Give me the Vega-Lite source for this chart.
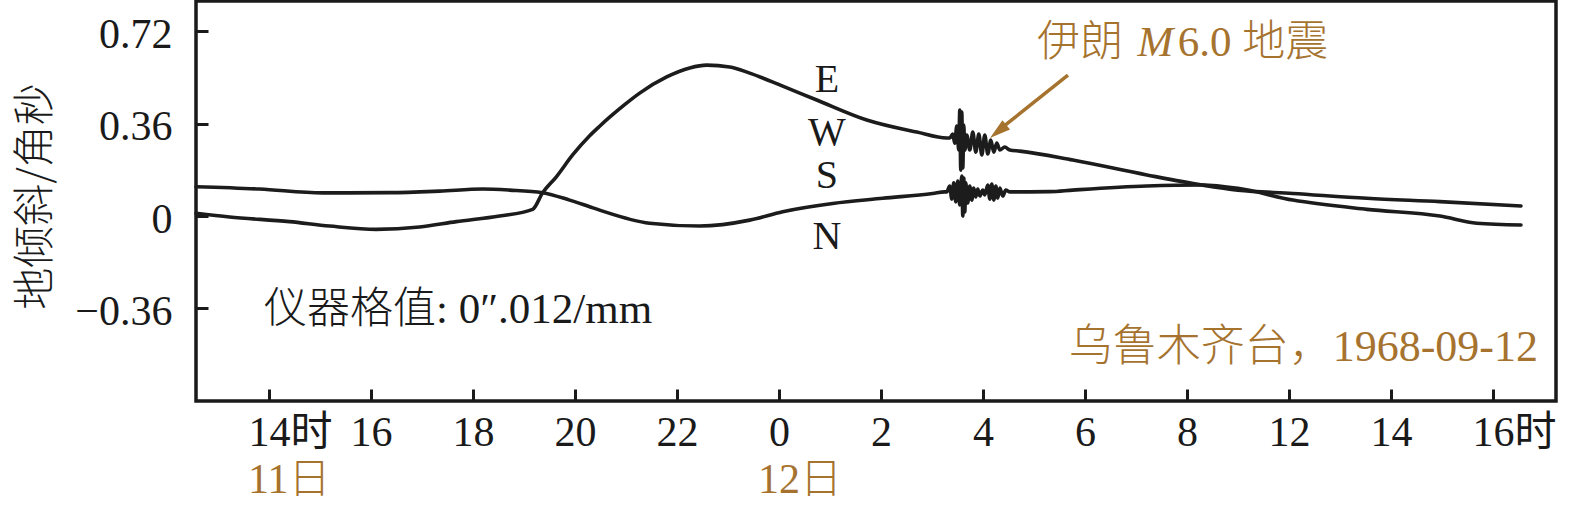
{
  "$schema": "https://vega.github.io/schema/vega-lite/v6.json",
  "width": 1360,
  "height": 400,
  "autosize": "none",
  "padding": {"left": 196, "top": 1, "right": 19, "bottom": 111},
  "background": "white",
  "config": {
    "font": "Liberation Serif, Noto Sans CJK SC",
    "view": {"stroke": "#1a1a1a", "strokeWidth": 3.5},
    "axis": {
      "grid": false,
      "domain": false,
      "ticks": true,
      "tickColor": "#1a1a1a",
      "tickWidth": 3,
      "tickSize": -12,
      "labelFont": "Liberation Serif, Noto Sans CJK SC",
      "labelFontSize": 42,
      "labelColor": "#1a1a1a",
      "labelOverlap": false,
      "labelFlush": false,
      "labelBound": false
    }
  },
  "datasets": {
    "curves": [
      {"component": "EW", "hour": 12.568, "tilt": 0.0105},
      {"component": "EW", "hour": 13.225, "tilt": -0.004},
      {"component": "EW", "hour": 14.402, "tilt": -0.022},
      {"component": "EW", "hour": 15.187, "tilt": -0.039},
      {"component": "EW", "hour": 16.103, "tilt": -0.052},
      {"component": "EW", "hour": 16.952, "tilt": -0.043},
      {"component": "EW", "hour": 17.672, "tilt": -0.022},
      {"component": "EW", "hour": 18.521, "tilt": 0.0},
      {"component": "EW", "hour": 19.169, "tilt": 0.026},
      {"component": "EW", "hour": 19.365, "tilt": 0.091},
      {"component": "EW", "hour": 19.634, "tilt": 0.153},
      {"component": "EW", "hour": 19.953, "tilt": 0.238},
      {"component": "EW", "hour": 20.287, "tilt": 0.313},
      {"component": "EW", "hour": 20.483, "tilt": 0.35},
      {"component": "EW", "hour": 20.679, "tilt": 0.385},
      {"component": "EW", "hour": 20.973, "tilt": 0.434},
      {"component": "EW", "hour": 21.268, "tilt": 0.479},
      {"component": "EW", "hour": 21.797, "tilt": 0.542},
      {"component": "EW", "hour": 22.249, "tilt": 0.577},
      {"component": "EW", "hour": 22.582, "tilt": 0.588},
      {"component": "EW", "hour": 23.033, "tilt": 0.581},
      {"component": "EW", "hour": 23.425, "tilt": 0.557},
      {"component": "EW", "hour": 24.073, "tilt": 0.506},
      {"component": "EW", "hour": 24.74, "tilt": 0.452},
      {"component": "EW", "hour": 25.721, "tilt": 0.374},
      {"component": "EW", "hour": 26.701, "tilt": 0.327},
      {"component": "EW", "hour": 27.29, "tilt": 0.304},
      {"component": "EW", "hour": 27.348, "tilt": 0.304},
      {"component": "EW", "hour": 27.407, "tilt": 0.319},
      {"component": "EW", "hour": 27.447, "tilt": 0.284},
      {"component": "EW", "hour": 27.486, "tilt": 0.351},
      {"component": "EW", "hour": 27.525, "tilt": 0.257},
      {"component": "EW", "hour": 27.545, "tilt": 0.413},
      {"component": "EW", "hour": 27.564, "tilt": 0.179},
      {"component": "EW", "hour": 27.584, "tilt": 0.405},
      {"component": "EW", "hour": 27.604, "tilt": 0.187},
      {"component": "EW", "hour": 27.623, "tilt": 0.355},
      {"component": "EW", "hour": 27.643, "tilt": 0.257},
      {"component": "EW", "hour": 27.682, "tilt": 0.316},
      {"component": "EW", "hour": 27.741, "tilt": 0.257},
      {"component": "EW", "hour": 27.8, "tilt": 0.327},
      {"component": "EW", "hour": 27.859, "tilt": 0.249},
      {"component": "EW", "hour": 27.918, "tilt": 0.319},
      {"component": "EW", "hour": 27.977, "tilt": 0.238},
      {"component": "EW", "hour": 28.035, "tilt": 0.316},
      {"component": "EW", "hour": 28.094, "tilt": 0.242},
      {"component": "EW", "hour": 28.153, "tilt": 0.296},
      {"component": "EW", "hour": 28.212, "tilt": 0.249},
      {"component": "EW", "hour": 28.271, "tilt": 0.284},
      {"component": "EW", "hour": 28.33, "tilt": 0.257},
      {"component": "EW", "hour": 28.428, "tilt": 0.269},
      {"component": "EW", "hour": 28.526, "tilt": 0.257},
      {"component": "EW", "hour": 28.722, "tilt": 0.253},
      {"component": "EW", "hour": 29.761, "tilt": 0.218},
      {"component": "EW", "hour": 31.213, "tilt": 0.16},
      {"component": "EW", "hour": 32.292, "tilt": 0.121},
      {"component": "EW", "hour": 32.998, "tilt": 0.101},
      {"component": "EW", "hour": 34.077, "tilt": 0.088},
      {"component": "EW", "hour": 35.528, "tilt": 0.069},
      {"component": "EW", "hour": 36.96, "tilt": 0.056},
      {"component": "EW", "hour": 38.549, "tilt": 0.039},
      {"component": "NS", "hour": 12.568, "tilt": 0.114},
      {"component": "NS", "hour": 13.814, "tilt": 0.105},
      {"component": "NS", "hour": 15.049, "tilt": 0.09},
      {"component": "NS", "hour": 16.364, "tilt": 0.091},
      {"component": "NS", "hour": 17.344, "tilt": 0.097},
      {"component": "NS", "hour": 18.188, "tilt": 0.105},
      {"component": "NS", "hour": 18.718, "tilt": 0.101},
      {"component": "NS", "hour": 19.365, "tilt": 0.091},
      {"component": "NS", "hour": 19.894, "tilt": 0.062},
      {"component": "NS", "hour": 20.287, "tilt": 0.036},
      {"component": "NS", "hour": 20.483, "tilt": 0.023},
      {"component": "NS", "hour": 21.464, "tilt": -0.028},
      {"component": "NS", "hour": 22.445, "tilt": -0.039},
      {"component": "NS", "hour": 23.425, "tilt": -0.016},
      {"component": "NS", "hour": 24.073, "tilt": 0.017},
      {"component": "NS", "hour": 25.054, "tilt": 0.049},
      {"component": "NS", "hour": 26.035, "tilt": 0.069},
      {"component": "NS", "hour": 27.015, "tilt": 0.088},
      {"component": "NS", "hour": 27.251, "tilt": 0.094},
      {"component": "NS", "hour": 27.29, "tilt": 0.094},
      {"component": "NS", "hour": 27.348, "tilt": 0.117},
      {"component": "NS", "hour": 27.388, "tilt": 0.066},
      {"component": "NS", "hour": 27.427, "tilt": 0.129},
      {"component": "NS", "hour": 27.466, "tilt": 0.055},
      {"component": "NS", "hour": 27.505, "tilt": 0.136},
      {"component": "NS", "hour": 27.545, "tilt": 0.043},
      {"component": "NS", "hour": 27.584, "tilt": 0.156},
      {"component": "NS", "hour": 27.604, "tilt": 0.0},
      {"component": "NS", "hour": 27.623, "tilt": 0.148},
      {"component": "NS", "hour": 27.643, "tilt": 0.016},
      {"component": "NS", "hour": 27.662, "tilt": 0.129},
      {"component": "NS", "hour": 27.701, "tilt": 0.051},
      {"component": "NS", "hour": 27.741, "tilt": 0.117},
      {"component": "NS", "hour": 27.78, "tilt": 0.062},
      {"component": "NS", "hour": 27.819, "tilt": 0.109},
      {"component": "NS", "hour": 27.859, "tilt": 0.074},
      {"component": "NS", "hour": 27.898, "tilt": 0.105},
      {"component": "NS", "hour": 27.937, "tilt": 0.078},
      {"component": "NS", "hour": 27.996, "tilt": 0.101},
      {"component": "NS", "hour": 28.035, "tilt": 0.082},
      {"component": "NS", "hour": 28.094, "tilt": 0.121},
      {"component": "NS", "hour": 28.133, "tilt": 0.066},
      {"component": "NS", "hour": 28.172, "tilt": 0.125},
      {"component": "NS", "hour": 28.212, "tilt": 0.062},
      {"component": "NS", "hour": 28.251, "tilt": 0.117},
      {"component": "NS", "hour": 28.29, "tilt": 0.07},
      {"component": "NS", "hour": 28.33, "tilt": 0.109},
      {"component": "NS", "hour": 28.388, "tilt": 0.078},
      {"component": "NS", "hour": 28.447, "tilt": 0.101},
      {"component": "NS", "hour": 28.526, "tilt": 0.094},
      {"component": "NS", "hour": 29.31, "tilt": 0.095},
      {"component": "NS", "hour": 29.761, "tilt": 0.101},
      {"component": "NS", "hour": 31.213, "tilt": 0.117},
      {"component": "NS", "hour": 32.292, "tilt": 0.121},
      {"component": "NS", "hour": 32.998, "tilt": 0.108},
      {"component": "NS", "hour": 34.077, "tilt": 0.062},
      {"component": "NS", "hour": 35.528, "tilt": 0.026},
      {"component": "NS", "hour": 36.96, "tilt": 0.0},
      {"component": "NS", "hour": 37.685, "tilt": -0.028},
      {"component": "NS", "hour": 38.549, "tilt": -0.035}
    ],
    "letters": [
      {"label": "E", "hour": 24.941, "tilt": 0.53},
      {"label": "W", "hour": 24.941, "tilt": 0.325},
      {"label": "S", "hour": 24.941, "tilt": 0.154},
      {"label": "N", "hour": 24.941, "tilt": -0.082}
    ],
    "note": [
      {"label": "仪器格值: 0″.012/mm", "hour": 13.901, "tilt": -0.366}
    ],
    "station": [
      {"label": "乌鲁木齐台，1968-09-12", "hour": 38.882, "tilt": -0.514}
    ],
    "quake1": [{"label": "伊朗", "hour": 29.058, "tilt": 0.674}],
    "quake2": [{"label": "M", "hour": 31.03, "tilt": 0.674}],
    "quake3": [{"label": "6.0 地震", "hour": 31.82, "tilt": 0.674}],
    "arrow": [{"hour": 29.666, "tilt": 0.549, "hour2": 28.392, "tilt2": 0.347}],
    "arrowhead": [{"hour": 28.137, "tilt": 0.304}],
    "days": [
      {"label": "11日", "hour": 14, "tilt": -1.0285},
      {"label": "12日", "hour": 24, "tilt": -1.0285}
    ]
  },
  "encoding": {
    "x": {
      "field": "hour", "type": "quantitative",
      "scale": {"domain": [12.568, 39.236], "nice": false, "zero": false},
      "axis": {
        "title": null,
        "values": [14, 16, 18, 20, 22, 24, 26, 28, 30, 32, 34, 36, 38],
        "labelExpr": "datum.value == 14 ? '14时' : datum.value == 38 ? '16时' : datum.value == 34 ? '12' : datum.value == 36 ? '14' : datum.value >= 24 ? '' + (datum.value - 24) : '' + datum.value",
        "labelPadding": 23,
        "labelBaseline": "top",
        "labelAlign": {"condition": {"test": "datum.value == 14 || datum.value == 38", "value": "left"}, "value": "center"},
        "labelOffset": {"condition": {"test": "datum.value == 14 || datum.value == 38", "value": -21}, "value": 0}
      }
    },
    "y": {
      "field": "tilt", "type": "quantitative",
      "scale": {"domain": [-0.721, 0.838], "nice": false, "zero": false},
      "axis": {
        "title": "地倾斜/角秒",
        "values": [-0.36, 0, 0.36, 0.72],
        "labelExpr": "datum.value == 0 ? '0' : datum.value < 0 ? '−0.36' : format(datum.value, '.2f')",
        "labelPadding": 36,
        "labelOffset": 3,
        "labelBaseline": "middle",
        "titleFont": "Noto Sans CJK SC",
        "titleFontSize": 42,
        "titleFontWeight": 300,
        "titleColor": "#1a1a1a",
        "titleX": -161,
        "titleY": 195,
        "titleAngle": 270,
        "titleBaseline": "middle",
        "titleAlign": "center"
      }
    }
  },
  "layer": [
    {
      "data": {"name": "curves"},
      "mark": {"type": "line", "color": "#1c1c1c", "strokeWidth": 3.6, "strokeJoin": "round", "strokeCap": "round", "interpolate": "monotone"},
      "encoding": {
        "detail": {"field": "component"}
      }
    },
    {
      "data": {"name": "letters"},
      "mark": {"type": "text", "font": "Liberation Serif", "fontSize": 40, "color": "#1a1a1a", "align": "center", "baseline": "middle"},
      "encoding": {"text": {"field": "label"}}
    },
    {
      "data": {"name": "note"},
      "mark": {"type": "text", "font": "Liberation Serif, Noto Sans CJK SC", "fontSize": 43, "fontWeight": 300, "color": "#1a1a1a", "align": "left", "baseline": "middle"},
      "encoding": {"text": {"field": "label"}}
    },
    {
      "data": {"name": "station"},
      "mark": {"type": "text", "font": "Liberation Serif, Noto Sans CJK SC", "fontSize": 44, "fontWeight": 300, "color": "#a6732f", "align": "right", "baseline": "middle"},
      "encoding": {"text": {"field": "label"}}
    },
    {
      "data": {"name": "quake1"},
      "mark": {"type": "text", "font": "Noto Sans CJK SC", "fontSize": 43, "fontWeight": 300, "color": "#a6732f", "align": "left", "baseline": "middle"},
      "encoding": {"text": {"field": "label"}}
    },
    {
      "data": {"name": "quake2"},
      "mark": {"type": "text", "font": "Liberation Serif", "fontSize": 43, "fontStyle": "italic", "color": "#a6732f", "align": "left", "baseline": "middle"},
      "encoding": {"text": {"field": "label"}}
    },
    {
      "data": {"name": "quake3"},
      "mark": {"type": "text", "font": "Liberation Serif, Noto Sans CJK SC", "fontSize": 43, "fontWeight": 300, "color": "#a6732f", "align": "left", "baseline": "middle"},
      "encoding": {"text": {"field": "label"}}
    },
    {
      "data": {"name": "arrow"},
      "mark": {"type": "rule", "color": "#a6732f", "strokeWidth": 3.5},
      "encoding": {
        "x2": {"field": "hour2"},
        "y2": {"field": "tilt2"}
      }
    },
    {
      "data": {"name": "arrowhead"},
      "mark": {"type": "point", "shape": "M0,0L0.55,1.9L-0.55,1.9Z", "size": 484, "angle": 231, "filled": true, "color": "#a6732f", "opacity": 1}
    },
    {
      "data": {"name": "days"},
      "mark": {"type": "text", "font": "Liberation Serif, Noto Sans CJK SC", "fontSize": 42, "fontWeight": 300, "color": "#a6732f", "align": "left", "baseline": "middle", "dx": -21},
      "encoding": {"text": {"field": "label"}}
    }
  ]
}
